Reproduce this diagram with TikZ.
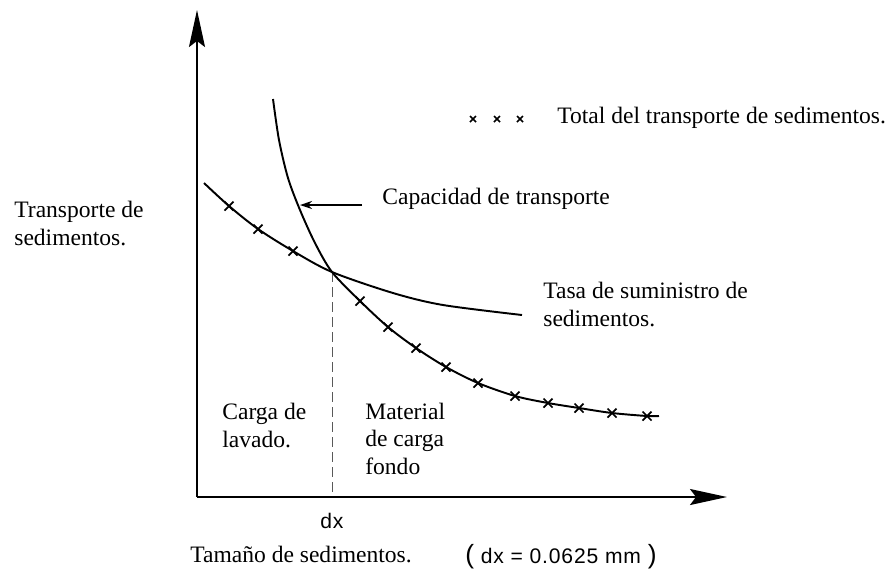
\documentclass[tikz,border=0pt]{standalone}
\usepackage{fontspec}
\setmainfont{Liberation Serif}
\newfontfamily\dxfont[LetterSpace=4]{Liberation Sans}
\usetikzlibrary{arrows.meta}

\tikzset{
  curve/.style={line width=1.1pt, line join=round},
  axis/.style={line width=1.1pt, -{Stealth[length=7.4mm, width=3.2mm, inset=1.2mm]}},
  lbl/.style={inner sep=0pt, anchor=base west, align=left,
    font=\fontsize{13.4}{15.4}\selectfont},
  dxlbl/.style={inner sep=0pt, anchor=base, font=\dxfont\fontsize{12}{14}\selectfont}
}

\begin{document}
\begin{tikzpicture}[x=0.2mm, y=-0.2mm]
                \useasboundingbox (0,0) rectangle (896,573);
                % Axes
                \coordinate (O) at (197,497);
                \coordinate (ytip) at (197,10);
                \coordinate (xtip) at (727,497);
                \draw[axis] (O) -- (ytip);
                \draw[axis] (O) -- (xtip);

                % Crossing point and dashed line down to dx
                \coordinate (X) at (332,272);
                \coordinate (Xb) at (332,497);
                \draw[thin, gray!70!black, dash pattern=on 2mm off 1mm] (X) -- (Xb);
                \node[dxlbl] (dx) at (332,528) {dx};

                % Curves
                % Supply rate curve
                \draw[curve] plot[smooth] coordinates {(204,183) (229,206) (258,229) (293,251) (332,272) (393,293) (443,305) (522,315)};
                % Capacity curve, joined by the total transport curve after X
                \draw[curve] plot[smooth] coordinates {(273,99) (279,140) (288,178) (300,210) (315,243) (332,272) (360,301) (388,327) (416,348) (446,367) (478,383) (515,396) (548,403) (579,408) (612,413) (647,416) (659,416)};

                % Crosses of the total transport
                \foreach \p in {(229,206),(258,229),(293,251),(360,301),(388,327),(416,348),(446,367),(478,383),(515,396),(548,403),(579,408),(612,413),(647,416)}
                  \draw[line width=1pt] \p +(-4.5,-4.5) -- +(4.5,4.5) \p +(-4.5,4.5) -- +(4.5,-4.5);

                % Legend
                \foreach \x in {473,497,520}
                  \draw[line width=0.9pt] (\x,119) +(-3,-3) -- +(3,3) (\x,119) +(-3,3) -- +(3,-3);
                \node[lbl] (total) at (557,123) {Total del transporte de sedimentos.};

                % Labels (multi-line ones sit on their last baseline)
                \node[lbl] (cap) at (382,204) {Capacidad de transporte};
                \coordinate (captip) at (300,205);
                \draw[line width=0.8pt, -{Stealth[length=2.4mm, width=1.6mm]}] ([xshift=-4mm]cap.west |- captip) -- (captip);
                \node[lbl] (supply) at (543,326) {Tasa de suministro de\\sedimentos.};
                \node[lbl] (ylabel) at (14,245) {Transporte de\\sedimentos.};
                \node[lbl] (wash) at (222,447) {Carga de\\lavado.};
                \node[lbl] (bed) at (365,474) {Material\\de carga\\fondo};
                \node[lbl] (xlabel) at (190,562) {Tamaño de sedimentos.};
                \node[dxlbl, anchor=base west] (dxval) at (465,563) {{\fontsize{15}{15}\selectfont(} dx = 0.0625 mm {\fontsize{15}{15}\selectfont)}};
            \end{tikzpicture}
\end{document}
